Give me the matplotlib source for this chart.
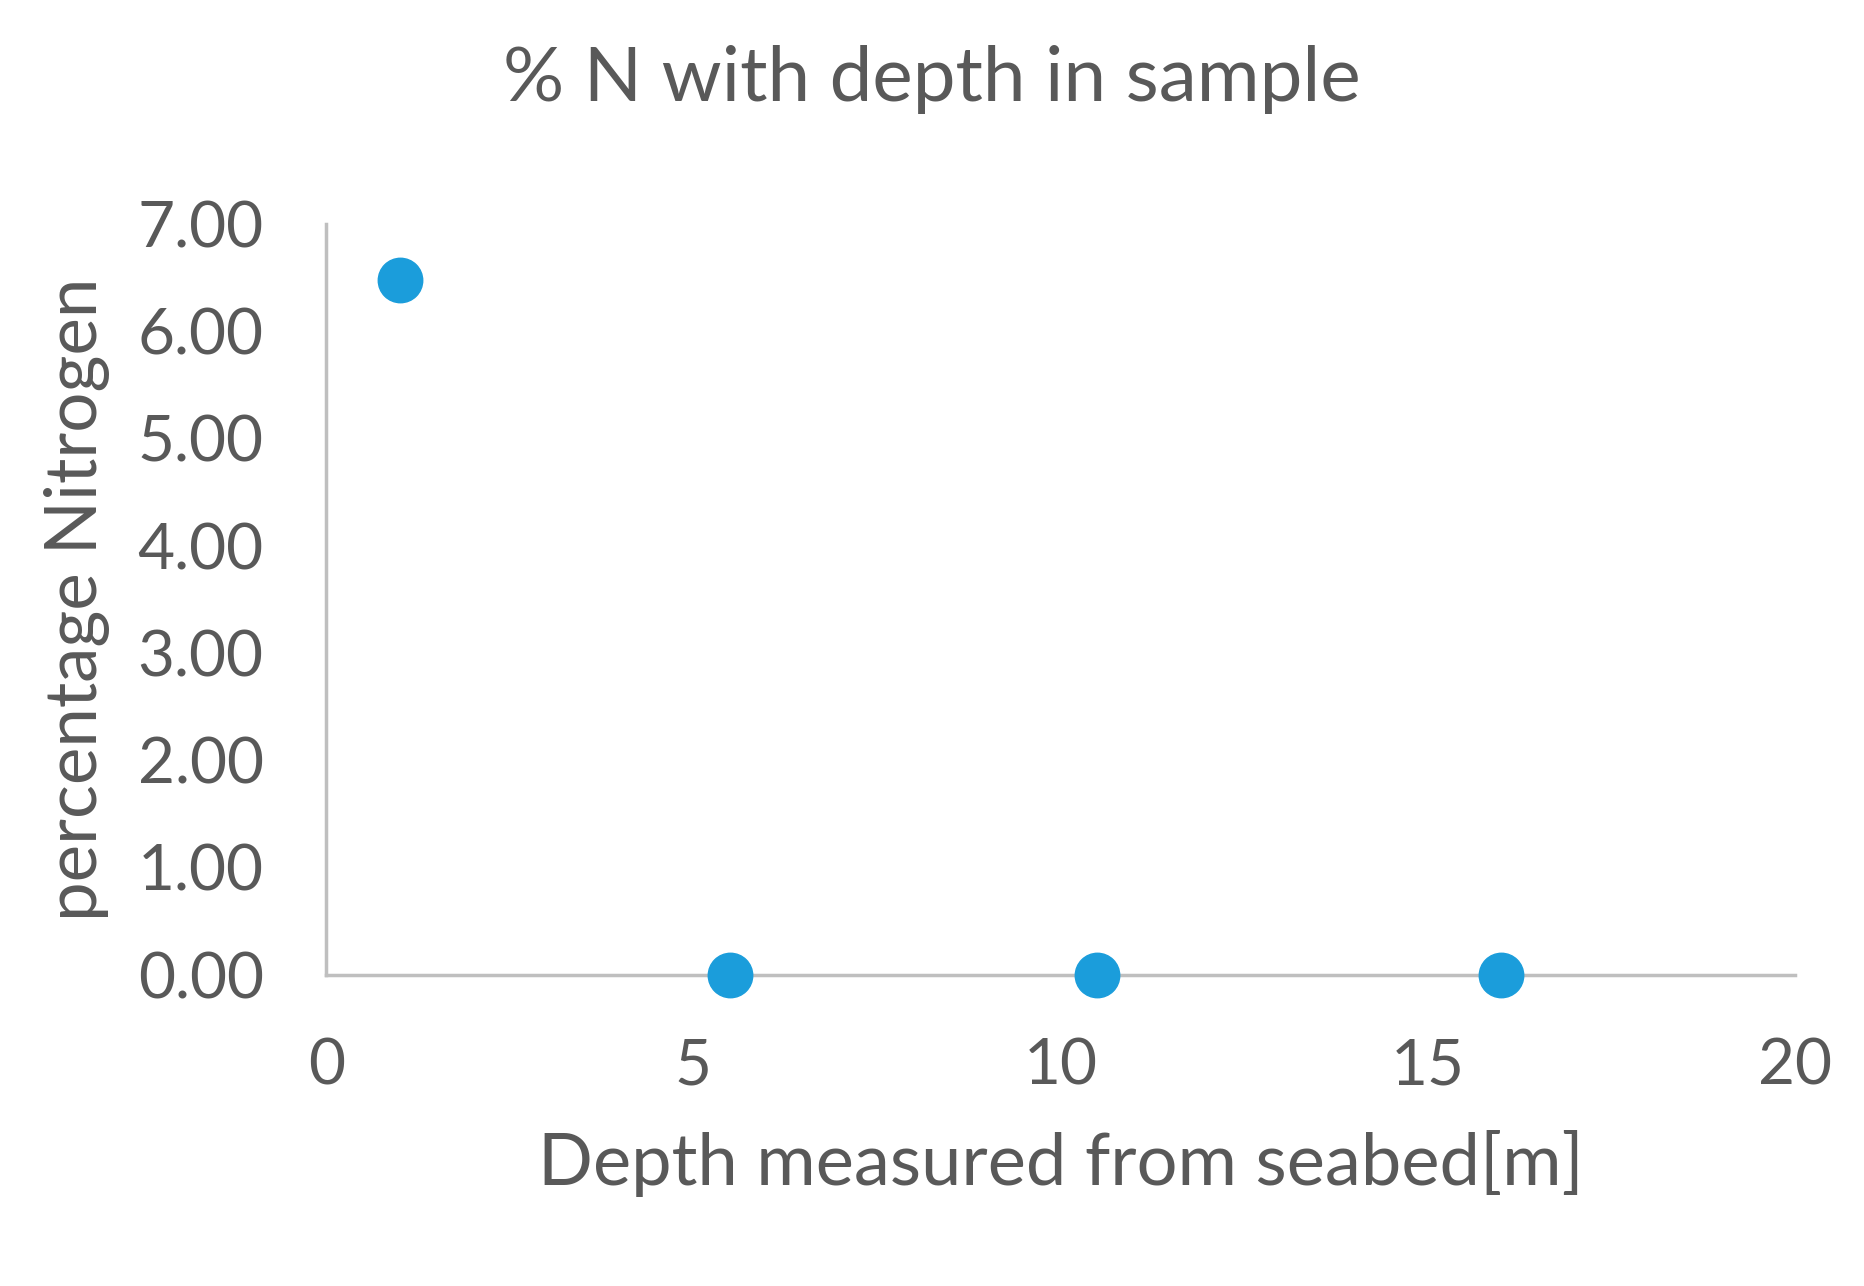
import matplotlib
matplotlib.use('Agg')
import matplotlib.pyplot as plt

depth = [1.0, 5.5, 10.5, 16.0]
nitrogen = [6.48, 0.0, 0.0, 0.0]
yticks = [0, 1, 2, 3, 4, 5, 6, 7]
xticks = [0, 5, 10, 15, 20]

plt.rcParams['font.family'] = ['Lato', 'DejaVu Sans']
grey = '#595959'

fig = plt.figure(figsize=(18.64, 12.86), dpi=100)
ax = fig.add_axes([0.175, 0.242, 0.788, 0.584])
ax.plot(depth, nitrogen, 'o', color='#1B9DDB', markersize=32, clip_on=False, zorder=3)

ax.set_xlim(0, 20)
ax.set_ylim(0, 7)
ax.set_xticks(xticks)
ax.set_yticks(yticks)
ax.set_yticklabels(['%.2f' % v for v in yticks])
for s in ['top', 'right']:
    ax.spines[s].set_visible(False)
for s in ['left', 'bottom']:
    ax.spines[s].set_color('#BFBFBF')
    ax.spines[s].set_linewidth(2.5)
ax.tick_params(length=0, labelsize=46, colors=grey)
ax.tick_params(axis='x', pad=45)
ax.tick_params(axis='y', pad=45)

ax.set_xlabel('Depth measured from seabed[m]', fontsize=52, color=grey, labelpad=25)
ax.set_ylabel('percentage Nitrogen', fontsize=51, color=grey, labelpad=20)
fig.suptitle('% N with depth in sample', fontsize=55, color=grey, x=0.5, y=0.965)

fig.savefig('out.png', dpi=100)
